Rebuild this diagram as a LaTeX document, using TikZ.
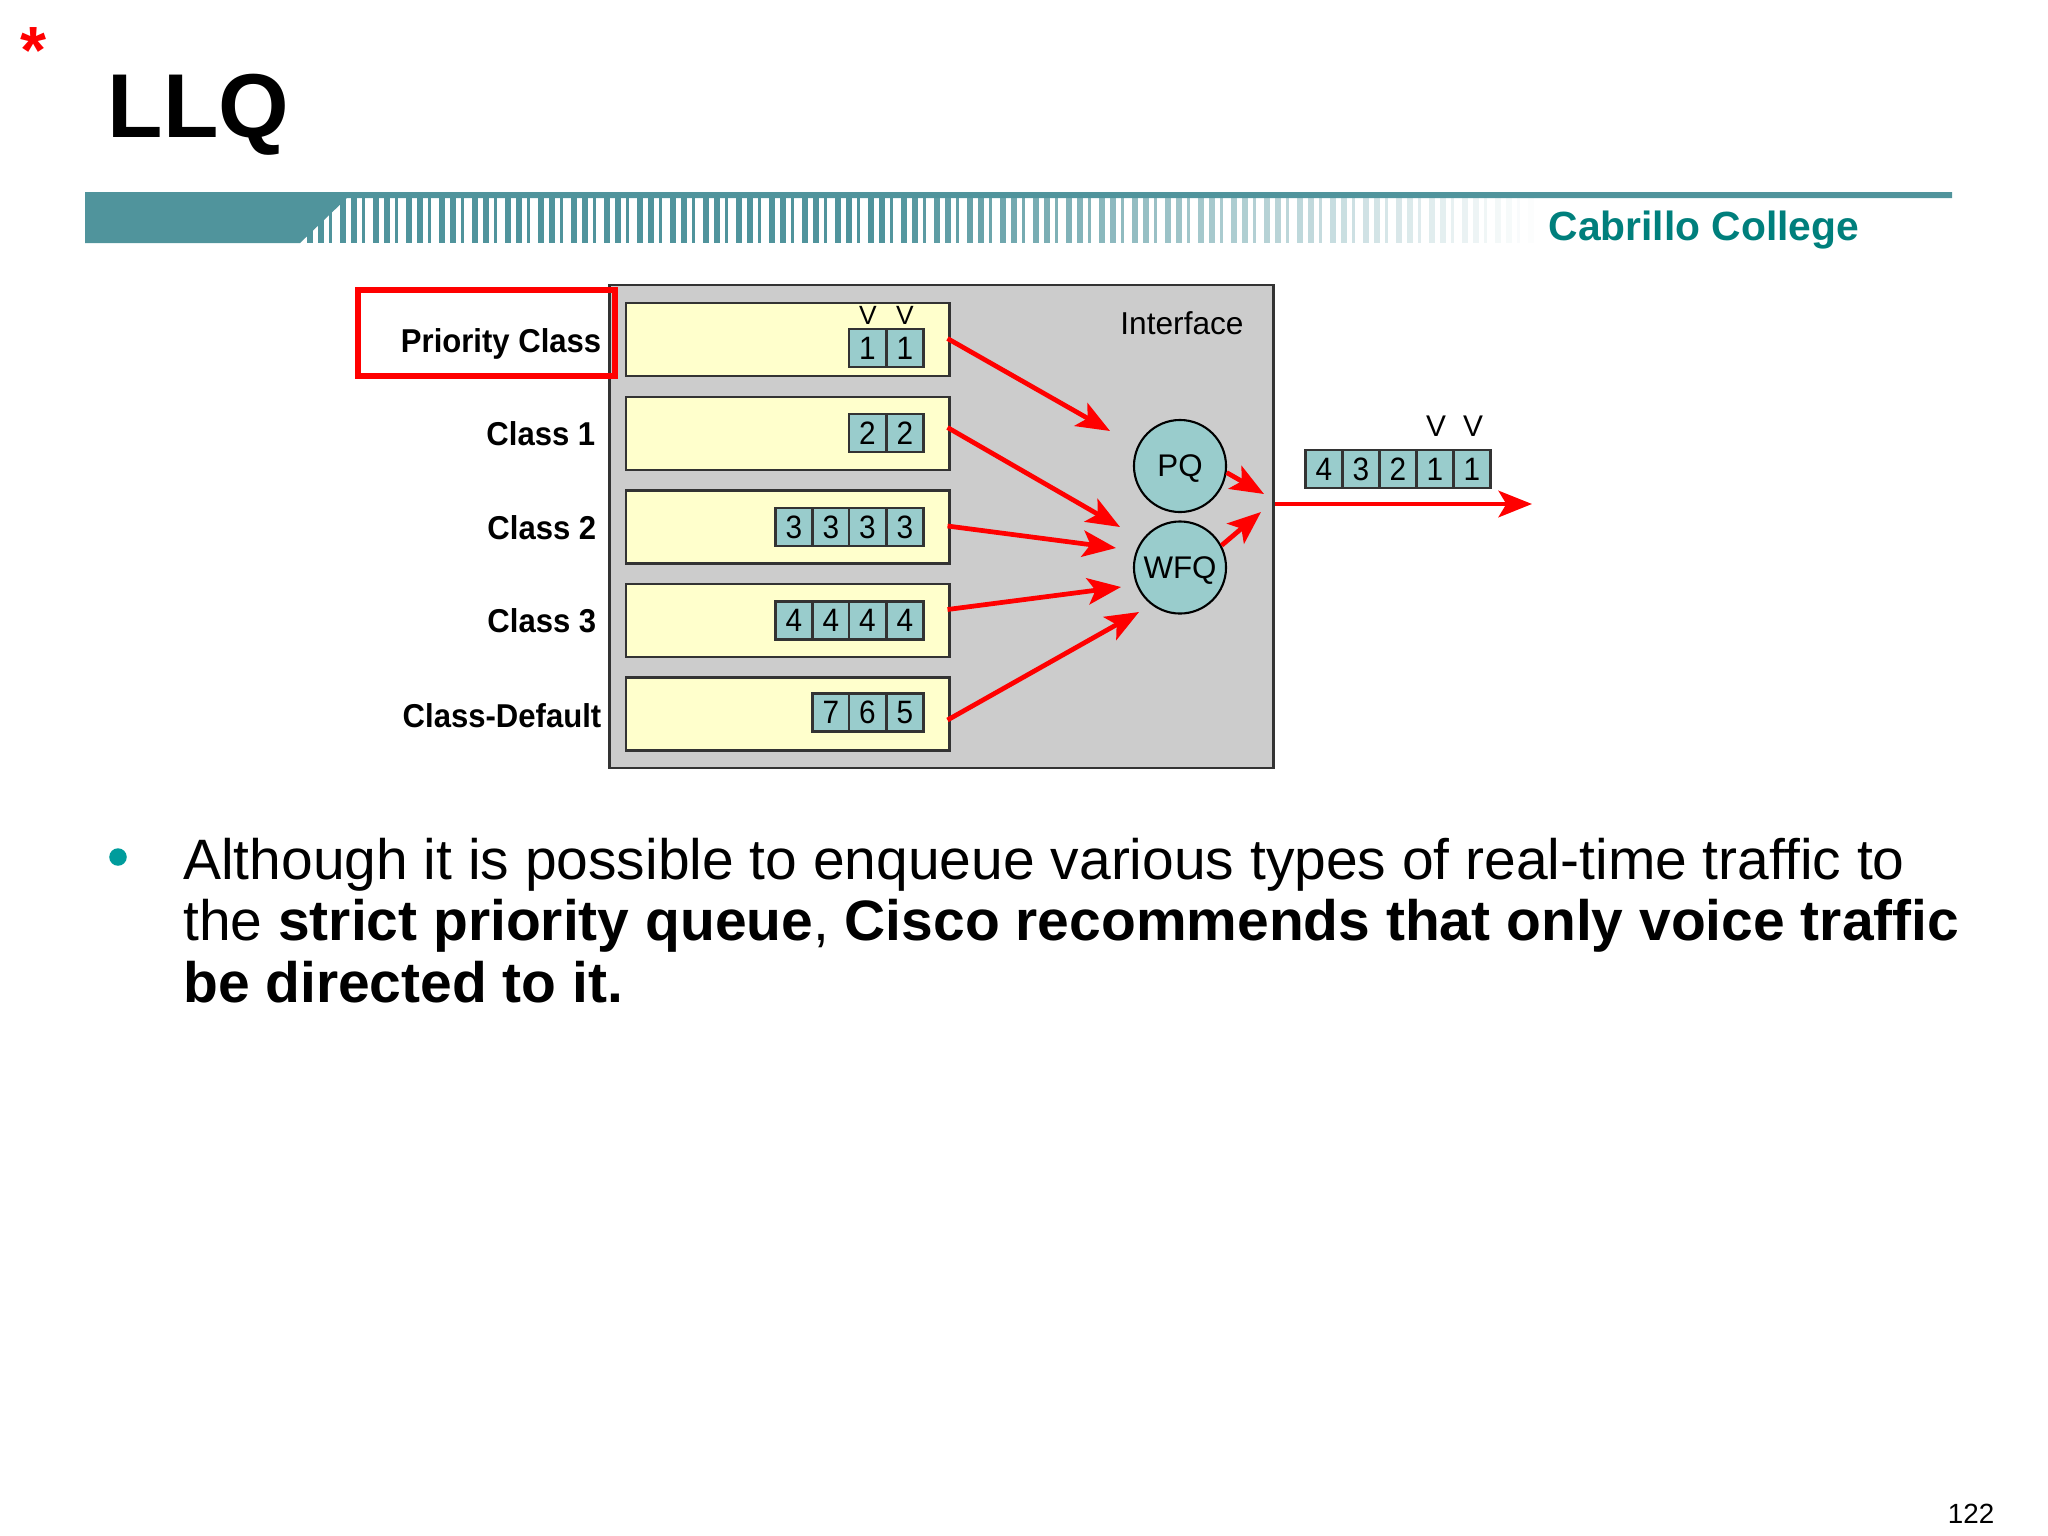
\documentclass[tikz,border=0pt]{standalone}
\usepackage{fontspec}
\setmainfont{Liberation Sans}
\usepackage{tikz}
\usetikzlibrary{calc,arrows.meta}

\definecolor{barteal}{HTML}{50949C}
\definecolor{collegeteal}{HTML}{007F7C}
\definecolor{bulletteal}{HTML}{009C9C}
\definecolor{cellteal}{HTML}{99CCCC}
\definecolor{rowyellow}{HTML}{FFFFCC}
\definecolor{ifgray}{HTML}{CCCCCC}
\definecolor{linegray}{HTML}{333333}

\tikzset{
	ifbox/.style={draw=linegray, fill=ifgray, line width=0.75pt, minimum width=6.63cm, minimum height=4.83cm, inner sep=0pt},
	rowbox/.style={draw=linegray, fill=rowyellow, line width=0.8pt, minimum width=3.23cm, minimum height=0.73cm, inner sep=0pt},
	cellbox/.style={draw=linegray, fill=cellteal, line width=0.7pt, minimum width=0.373cm, minimum height=0.38cm, inner sep=0pt, font=\fontsize{9.2}{10}\selectfont\addfontfeature{FakeStretch=0.92}},
	sched/.style={circle, draw=black, fill=cellteal, line width=0.6pt, minimum size=0.92cm, inner sep=0pt, text depth=0pt, font=\fontsize{8.9}{10}\selectfont},
	classlabel/.style={anchor=east, inner sep=0pt, font=\bfseries\fontsize{9.4}{11}\selectfont\addfontfeature{FakeStretch=0.94}},
	flow/.style={draw=red, line width=1.35pt, -{Stealth[length=9.5pt, width=7.5pt, inset=2.2pt]}},
}

\begin{document}
\begin{tikzpicture}[x=0.01cm, y=-0.01cm]

	\useasboundingbox (0,0) rectangle (2048,1536);

% heading %{{{2

	\node[anchor=base west, inner sep=0pt, text=red, font=\bfseries\fontsize{19}{20}\selectfont] (star) at (20,73) {*};
	\node[anchor=base west, inner sep=0pt, font=\bfseries\fontsize{25.8}{30}\selectfont] (title) at (107,137) {LLQ};

% header bar %{{{2

	\fill[barteal] (85,192) -- (1952,192) -- (1952,198) -- (347,198) -- (300,243) -- (85,243) -- cycle;

	% fading comb
	\foreach \bx [count=\bi] in {307,318,...,1528} {
		\pgfmathsetmacro{\bo}{min(1,(1540-\bx)/660)}
		\pgfmathsetmacro{\bw}{mod(\bi,3)==0 ? 3 : 5.5}
		\fill[barteal, opacity=\bo] (\bx,198) rectangle ++(\bw,45);
	}

	\node[anchor=base west, inner sep=0pt, text=collegeteal, font=\bfseries\fontsize{11.6}{13}\selectfont] (college) at (1548,240) {Cabrillo College};

% interface and rows %{{{2

	\node[ifbox]  (iface) at (941.5,526.5) {};
	\node[rowbox] (rowa)  at (787.5,339.5) {};
	\node[rowbox] (rowb)  at (787.5,433.5) {};
	\node[rowbox] (rowc)  at (787.5,527) {};
	\node[rowbox] (rowd)  at (787.5,620.5) {};
	\node[rowbox] (rowe)  at (787.5,714) {};

	\node[font=\fontsize{9}{10}\selectfont, inner sep=0pt] (ifname) at (1182,323) {Interface};

% class labels %{{{2

	\node[classlabel] (lpri) at (602,344) {Priority Class};
	\node[classlabel] (lone) at (596,434) {Class 1};
	\node[classlabel] (ltwo) at (597,528) {Class 2};
	\node[classlabel] (lthr) at (597,621) {Class 3};
	\node[classlabel] (ldef) at (602,716) {Class-Default};

	\draw[red, line width=1.55pt] (358,290) rectangle (615,376);

% queued packets %{{{2

	% priority row
	\node[cellbox] (aa) at (867.5,348) {1};
	\node[cellbox] (ab) at (905,348) {1};
	\node[font=\fontsize{7.5}{8}\selectfont, inner sep=0pt] (va) at (868,315) {V};
	\node[font=\fontsize{7.5}{8}\selectfont, inner sep=0pt] (vb) at (905,315) {V};

	% class 1
	\node[cellbox] (ba) at (867.5,433) {2};
	\node[cellbox] (bb) at (905,433) {2};

	% class 2
	\node[cellbox] (ca) at (794,527) {3};
	\node[cellbox] (cb) at (831,527) {3};
	\node[cellbox] (cc) at (867.5,527) {3};
	\node[cellbox] (cd) at (905,527) {3};

	% class 3
	\node[cellbox] (da) at (794,620.5) {4};
	\node[cellbox] (db) at (831,620.5) {4};
	\node[cellbox] (dc) at (867.5,620.5) {4};
	\node[cellbox] (dd) at (905,620.5) {4};

	% class default
	\node[cellbox] (ea) at (831,712.5) {7};
	\node[cellbox] (eb) at (867.5,712.5) {6};
	\node[cellbox] (ec) at (905,712.5) {5};

% schedulers %{{{2

	\node[sched] (pq)  at (1180,466) {PQ};
	\node[sched] (wfq) at (1180,567.5) {WFQ};

% output queue %{{{2

	\node[cellbox] (oa) at (1324,469) {4};
	\node[cellbox] (ob) at (1361,469) {3};
	\node[cellbox] (oc) at (1398,469) {2};
	\node[cellbox] (od) at (1435,469) {1};
	\node[cellbox] (oe) at (1472,469) {1};

	\node[font=\fontsize{8.5}{10}\selectfont, inner sep=0pt] (vc) at (1436,426) {V};
	\node[font=\fontsize{8.5}{10}\selectfont, inner sep=0pt] (vd) at (1473,426) {V};

% arrows %{{{2

	% free ends in front of the schedulers
	\coordinate (inpq)  at (1110,431);
	\coordinate (inb)   at (1120,527);
	\coordinate (inc)   at (1116,548);
	\coordinate (ind)   at (1121,587);
	\coordinate (ine)   at (1139,612);
	\coordinate (outpq) at (1264,494);
	\coordinate (outwf) at (1261,512);
	\coordinate (wire)  at (1532,504);

	\draw[flow] ($(rowa.east)+(-3,-1)$) -- (inpq);
	\draw[flow] ($(rowb.east)+(-3,-6)$) -- (inb);
	\draw[flow] ($(rowc.east)+(-3,-1)$) -- (inc);
	\draw[flow] ($(rowd.east)+(-3,-11)$) -- (ind);
	\draw[flow] ($(rowe.east)+(-3,6)$) -- (ine);
	\draw[flow] (pq.-8) -- (outpq);
	\draw[flow] (wfq.28) -- (outwf);
	\draw[flow] (iface.east |- wire) -- (wire);

% bullet text %{{{2

	\node[circle, fill=bulletteal, minimum size=0.175cm, inner sep=0pt] (dot) at (118,857) {};

	\node[anchor=base west, inner sep=0pt, font=\fontsize{16.2}{17.5}\selectfont] (linea) at (182.5,879) {Although it is possible to enqueue various types of real-time traffic to};
	\node[anchor=base west, inner sep=0pt, font=\fontsize{16.2}{17.5}\selectfont] (lineb) at (182.5,940.5) {the \textbf{strict priority queue}, \textbf{Cisco recommends that only voice traffic}};
	\node[anchor=base west, inner sep=0pt, font=\fontsize{16.2}{17.5}\selectfont] (linec) at (182.5,1002) {\textbf{be directed to it.}};

% page number %{{{2

	\node[anchor=base east, inner sep=0pt, font=\fontsize{7.9}{9}\selectfont] (pageno) at (1995,1523) {122};

% closing %{{{2

\end{tikzpicture}
\end{document}
